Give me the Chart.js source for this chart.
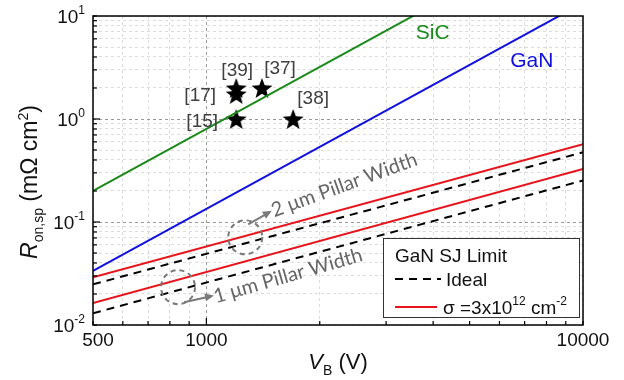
<!DOCTYPE html>
<html>
<head>
<meta charset="utf-8">
<script src="https://cdn.jsdelivr.net/npm/chart.js@4.4.1/dist/chart.umd.min.js"></script>
<style>
  body { margin: 0; background: #fff; }
  canvas { display: block; }
</style>
</head>
<body>
<canvas id="chart" width="624" height="380"></canvas>
<script>
// breakdown voltage endpoints (V) used by the limit lines
const vbRange = [500, 10000];
// R_on,sp (mOhm cm2) at those endpoints
const sicLimit = [0.2, 80];
const ganLimit = [0.0335, 13.4];
const sj2umSigma = [0.029, 0.57];
const sj2umIdeal = [0.0248, 0.475];
const sj1umSigma = [0.0163, 0.328];
const sj1umIdeal = [0.013, 0.253];
// reported devices (stars)
const devVb = [1200, 1200, 1200, 1405, 1700];
const devRon = [1.0, 1.75, 2.0, 2.0, 1.0];
const devRefs = ['[15]', '[17]', '[39]', '[37]', '[38]'];
// ticks
const xTicks = [500, 600, 700, 800, 900, 1000, 2000, 3000, 4000, 5000, 6000, 7000, 8000, 9000, 10000];
const xLabels = [500, 1000, 10000];
const yTicks = [0.01, 0.02, 0.03, 0.04, 0.05, 0.06, 0.07, 0.08, 0.09,
                0.1, 0.2, 0.3, 0.4, 0.5, 0.6, 0.7, 0.8, 0.9,
                1, 2, 3, 4, 5, 6, 7, 8, 9, 10];
const yLabelExp = [-2, -1, 0, 1];

const FONT = '"Liberation Sans", Arial, sans-serif';
const GREEN = '#1a8a1a';
const BLUE = '#1010e0';
const RED = '#e8141c';
const GRAY = '#7a7a7a';

function pairs(ys) {
  return vbRange.map(function (x, i) { return { x: x, y: ys[i] }; });
}

// filled five pointed star used as point style
function makeStar(r) {
  const c = document.createElement('canvas');
  c.width = c.height = r * 2 + 2;
  const g = c.getContext('2d');
  g.beginPath();
  for (let i = 0; i < 10; i++) {
    const rad = i % 2 === 0 ? r : r * 0.42;
    const a = -Math.PI / 2 + i * Math.PI / 5;
    const px = r + 1 + rad * Math.cos(a);
    const py = r + 1 + rad * Math.sin(a) + r * 0.1;
    if (i === 0) g.moveTo(px, py); else g.lineTo(px, py);
  }
  g.closePath();
  g.fillStyle = '#000';
  g.fill();
  return c;
}

// draws text made of normal / sup / sub pieces
function rich(ctx, parts, x, y, align) {
  let w = 0;
  parts.forEach(function (p) {
    ctx.font = (p.it ? 'italic ' : '') + p.s + 'px ' + (p.f || FONT);
    p.w = ctx.measureText(p.t).width;
    w += p.w;
  });
  let cx = align === 'center' ? x - w / 2 : align === 'right' ? x - w : x;
  ctx.textAlign = 'left';
  ctx.textBaseline = 'alphabetic';
  parts.forEach(function (p) {
    ctx.font = (p.it ? 'italic ' : '') + p.s + 'px ' + (p.f || FONT);
    ctx.fillText(p.t, cx, y + (p.dy || 0));
    cx += p.w;
  });
}

const isMajorX = function (v) { return v === 1000; };
const isMajorY = function (v) { return v === 1 || v === 0.1; };

const decor = {
  id: 'decor',
  afterDatasetsDraw: function (chart) {
    const ctx = chart.ctx;
    const a = chart.chartArea;
    const xs = chart.scales.x, ys = chart.scales.y;
    ctx.save();

    // reference labels next to stars
    const offs = [[-34, 3], [-36, 2], [1, -17], [18, -19], [20, -20]];
    ctx.fillStyle = '#404040';
    ctx.font = '19px ' + FONT;
    ctx.textAlign = 'center';
    ctx.textBaseline = 'middle';
    devRefs.forEach(function (r, i) {
      const px = xs.getPixelForValue(devVb[i]);
      const py = ys.getPixelForValue(devRon[i]);
      ctx.fillText(r, px + offs[i][0], py + offs[i][1]);
    });

    // material labels
    ctx.font = '21px ' + FONT;
    ctx.fillStyle = GREEN;
    ctx.fillText('SiC', xs.getPixelForValue(3990), ys.getPixelForValue(6.85));
    ctx.fillStyle = BLUE;
    ctx.fillText('GaN', xs.getPixelForValue(7310), ys.getPixelForValue(3.67));

    // dashed circles, arrows and pillar width notes
    const notes = [
      { vb: 1268, r: 0.071, from: [3, -13], to: [24, -25], txt: [29, -20], ang: -20, label: '2 \u03bcm Pillar Width' },
      { vb: 841, r: 0.0233, from: [6, 15], to: [33, 9], txt: [38, 16], ang: -16, label: '1 \u03bcm Pillar Width' }
    ];
    notes.forEach(function (n) {
      const cx = xs.getPixelForValue(n.vb);
      const cy = ys.getPixelForValue(n.r);
      ctx.strokeStyle = GRAY;
      ctx.lineWidth = 2;
      ctx.setLineDash([5, 4]);
      ctx.beginPath();
      ctx.arc(cx, cy, 17, 0, Math.PI * 2);
      ctx.stroke();
      ctx.setLineDash([]);
      const x0 = cx + n.from[0], y0 = cy + n.from[1];
      const x1 = cx + n.to[0], y1 = cy + n.to[1];
      ctx.beginPath();
      ctx.moveTo(x0, y0);
      ctx.lineTo(x1, y1);
      ctx.stroke();
      const ang = Math.atan2(y1 - y0, x1 - x0);
      ctx.fillStyle = GRAY;
      ctx.beginPath();
      ctx.moveTo(x1 + 3 * Math.cos(ang), y1 + 3 * Math.sin(ang));
      ctx.lineTo(x1 - 6 * Math.cos(ang) + 4 * Math.sin(ang), y1 - 6 * Math.sin(ang) - 4 * Math.cos(ang));
      ctx.lineTo(x1 - 6 * Math.cos(ang) - 4 * Math.sin(ang), y1 - 6 * Math.sin(ang) + 4 * Math.cos(ang));
      ctx.closePath();
      ctx.fill();
      ctx.save();
      ctx.translate(cx + n.txt[0], cy + n.txt[1]);
      ctx.rotate(n.ang * Math.PI / 180);
      ctx.fillStyle = '#666';
      ctx.font = '20px Lato, "Open Sans", sans-serif';
      ctx.textAlign = 'left';
      ctx.textBaseline = 'alphabetic';
      ctx.fillText(n.label, 0, 0);
      ctx.restore();
    });

    // legend box
    const lx = 383, ly = 238, lw = 196, lh = 79;
    ctx.fillStyle = '#fff';
    ctx.fillRect(lx, ly, lw, lh);
    ctx.strokeStyle = '#333';
    ctx.lineWidth = 1;
    ctx.strokeRect(lx + 0.5, ly + 0.5, lw, lh);
    ctx.fillStyle = '#111';
    rich(ctx, [{ t: 'GaN SJ Limit', s: 19 }], 395, 262, 'left');
    ctx.strokeStyle = '#000';
    ctx.lineWidth = 2;
    ctx.setLineDash([8, 6]);
    ctx.beginPath(); ctx.moveTo(395, 279); ctx.lineTo(441, 279); ctx.stroke();
    ctx.setLineDash([]);
    rich(ctx, [{ t: 'Ideal', s: 19 }], 446, 286, 'left');
    ctx.strokeStyle = RED;
    ctx.beginPath(); ctx.moveTo(395, 307); ctx.lineTo(437, 307); ctx.stroke();
    rich(ctx, [
      { t: '\u03c3 =3x10', s: 19 },
      { t: '12', s: 12, dy: -9 },
      { t: ' cm', s: 19 },
      { t: '-2', s: 12, dy: -9 }
    ], 443, 314, 'left');

    // frame
    ctx.strokeStyle = '#000';
    ctx.lineWidth = 1.5;
    ctx.strokeRect(a.left, a.top, a.right - a.left, a.bottom - a.top);

    // inward ticks on left and bottom
    ctx.lineWidth = 1.2;
    xTicks.forEach(function (v) {
      const px = xs.getPixelForValue(v);
      const len = isMajorX(v) ? 7 : 4;
      ctx.beginPath(); ctx.moveTo(px, a.bottom); ctx.lineTo(px, a.bottom - len); ctx.stroke();
    });
    yTicks.forEach(function (v) {
      const py = ys.getPixelForValue(v);
      const len = isMajorY(v) ? 7 : 4;
      ctx.beginPath(); ctx.moveTo(a.left, py); ctx.lineTo(a.left + len, py); ctx.stroke();
    });

    // tick labels
    ctx.fillStyle = '#111';
    ctx.font = '19px ' + FONT;
    ctx.textAlign = 'center';
    ctx.textBaseline = 'middle';
    xLabels.forEach(function (v) {
      const dx = v === 500 ? 5 : 0;
      ctx.fillText(String(v), xs.getPixelForValue(v) + dx, a.bottom + 16);
    });
    yLabelExp.forEach(function (e) {
      const py = ys.getPixelForValue(Math.pow(10, e));
      rich(ctx, [{ t: '10', s: 19 }, { t: e < 0 ? '-' + (-e) : String(e), s: 12, dy: -9 }], 85, py + 7, 'right');
    });

    // axis titles
    rich(ctx, [{ t: 'V', s: 22, it: true }, { t: 'B', s: 14, dy: 6 }, { t: ' (V)', s: 22 }], (a.left + a.right) / 2, 369, 'center');
    ctx.save();
    ctx.translate(37, 182);
    ctx.rotate(-Math.PI / 2);
    rich(ctx, [
      { t: 'R', s: 23, it: true },
      { t: 'on,sp', s: 14, dy: 6 },
      { t: ' (m\u03a9 cm', s: 23 },
      { t: '2', s: 14, dy: -9 },
      { t: ')', s: 23 }
    ], 0, 0, 'center');
    ctx.restore();

    ctx.restore();
  }
};

function lineSet(ys, color, dashed) {
  return {
    type: 'line',
    data: pairs(ys),
    borderColor: color,
    borderWidth: 2,
    borderDash: dashed ? [8, 6] : [],
    pointRadius: 0,
    fill: false,
    tension: 0
  };
}

new Chart(document.getElementById('chart'), {
  type: 'scatter',
  data: {
    datasets: [
      lineSet(sicLimit, GREEN, false),
      lineSet(ganLimit, BLUE, false),
      lineSet(sj2umSigma, RED, false),
      lineSet(sj2umIdeal, '#000', true),
      lineSet(sj1umSigma, RED, false),
      lineSet(sj1umIdeal, '#000', true),
      {
        type: 'scatter',
        data: devVb.map(function (v, i) { return { x: v, y: devRon[i] }; }),
        pointStyle: makeStar(11),
        pointRadius: 10
      }
    ]
  },
  options: {
    responsive: false,
    animation: false,
    layout: { padding: { left: 93, right: 41, top: 16, bottom: 55 } },
    plugins: { legend: { display: false }, tooltip: { enabled: false } },
    scales: {
      x: {
        type: 'logarithmic',
        min: 500,
        max: 10000,
        afterBuildTicks: function (axis) { axis.ticks = xTicks.map(function (v) { return { value: v }; }); },
        ticks: { display: false },
        grid: {
          drawTicks: false,
          lineWidth: 1,
          color: function (c) { return c.tick && isMajorX(c.tick.value) ? '#9a9a9a' : '#dcdcdc'; }
        },
        border: { display: false, dash: [3, 3] }
      },
      y: {
        type: 'logarithmic',
        min: 0.01,
        max: 10,
        afterBuildTicks: function (axis) { axis.ticks = yTicks.map(function (v) { return { value: v }; }); },
        ticks: { display: false },
        grid: {
          drawTicks: false,
          lineWidth: 1,
          color: function (c) { return c.tick && isMajorY(c.tick.value) ? '#9a9a9a' : '#dcdcdc'; }
        },
        border: { display: false, dash: [3, 3] }
      }
    }
  },
  plugins: [decor]
});
</script>
</body>
</html>
